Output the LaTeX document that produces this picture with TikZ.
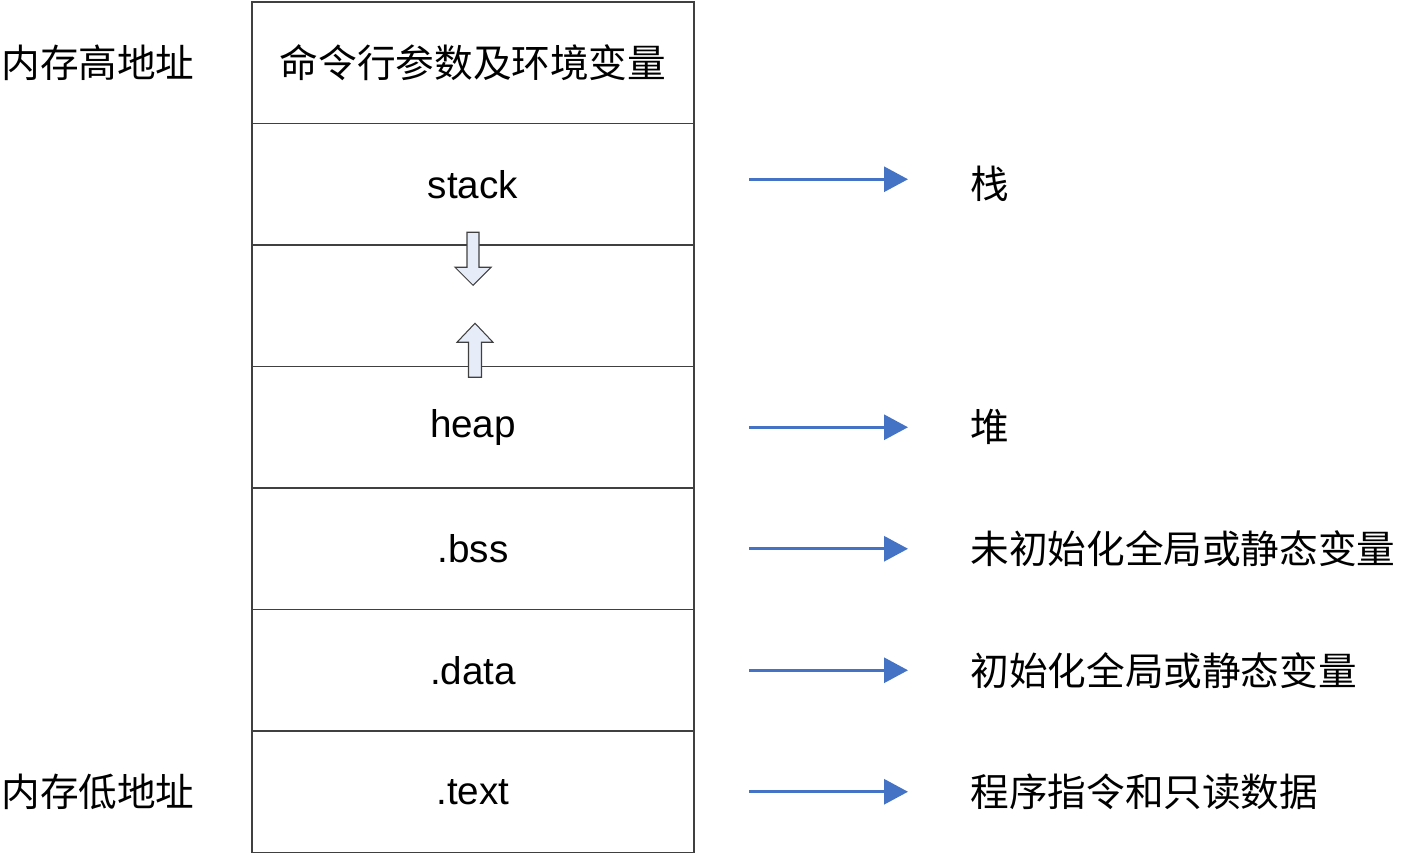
\documentclass[tikz,border=0pt]{standalone}
\usepackage{fontspec}
\setmainfont{Liberation Sans}
\newfontfamily\cjk{Noto Sans CJK SC}
\usetikzlibrary{positioning,arrows.meta}

\definecolor{arrowblue}{HTML}{4472C4}
\definecolor{shaftfill}{HTML}{E6ECF8}
\tikzset{
  segment/.style = {draw = black!75, line width = 0.6pt, minimum width = 8.84cm,
                    minimum height = 2.43cm, inner sep = 0pt, outer sep = 0pt,
                    font = \fontsize{22}{26}\selectfont},
  note/.style = {inner sep = 0pt, font = \cjk\fontsize{22}{26}\selectfont},
  memarrow/.style = {draw = arrowblue, line width = 1.7pt,
                     -{Triangle[length = 0.48cm, width = 0.5cm]}},
  blockarrow/.style = {draw = black!75, fill = shaftfill, line width = 0.6pt}
}

\begin{document}
\begin{tikzpicture}
\useasboundingbox (0,0) rectangle (28.02,-17.08);

% memory layout, high address on top
\node[segment] (cmdline) at (9.46,-1.255) {\cjk 命令行参数及环境变量};
\node[segment, below = 0pt of cmdline] (stack) {stack};
\node[segment, below = 0pt of stack] (gap) {};
\node[segment, below = 0pt of gap] (heap) {heap};
\node[segment, below = 0pt of heap] (bss) {.bss};
\node[segment, below = 0pt of bss] (data) {.data};
\node[segment, below = 0pt of data] (text) {.text};

% growth directions
\draw[blockarrow, shift = {(gap.center)}] (-0.12,1.47) -- (0.12,1.47) -- (0.12,0.77)
  -- (0.36,0.77) -- (0,0.41) -- (-0.36,0.77) -- (-0.12,0.77) -- cycle;
\draw[blockarrow, shift = {(gap.center)}] (-0.09,-1.43) -- (0.17,-1.43) -- (0.17,-0.73)
  -- (0.40,-0.73) -- (0.04,-0.35) -- (-0.32,-0.73) -- (-0.09,-0.73) -- cycle;

% address ends
\node[note, left = 1.14cm of cmdline.west] (highaddr) {内存高地址};
\node[note, left = 1.14cm of text.west] (lowaddr) {内存低地址};

% meaning of each segment
\node[note, right = 5.52cm of stack.east] (zhan) {栈};
\node[note, right = 5.52cm of heap.east] (dui) {堆};
\node[note, right = 5.52cm of bss.east] (bssnote) {未初始化全局或静态变量};
\node[note, right = 5.52cm of data.east] (datanote) {初始化全局或静态变量};
\node[note, right = 5.52cm of text.east] (textnote) {程序指令和只读数据};

\draw[memarrow] ([xshift = 1.1cm, yshift = 0.1cm]stack.east) -- ([xshift = -1.24cm, yshift = 0.1cm]zhan.west);
\draw[memarrow] ([xshift = 1.1cm]heap.east) -- ([xshift = -1.24cm]dui.west);
\draw[memarrow] ([xshift = 1.1cm]bss.east) -- ([xshift = -1.24cm]bssnote.west);
\draw[memarrow] ([xshift = 1.1cm]data.east) -- ([xshift = -1.24cm]datanote.west);
\draw[memarrow] ([xshift = 1.1cm]text.east) -- ([xshift = -1.24cm]textnote.west);
\end{tikzpicture}
\end{document}
